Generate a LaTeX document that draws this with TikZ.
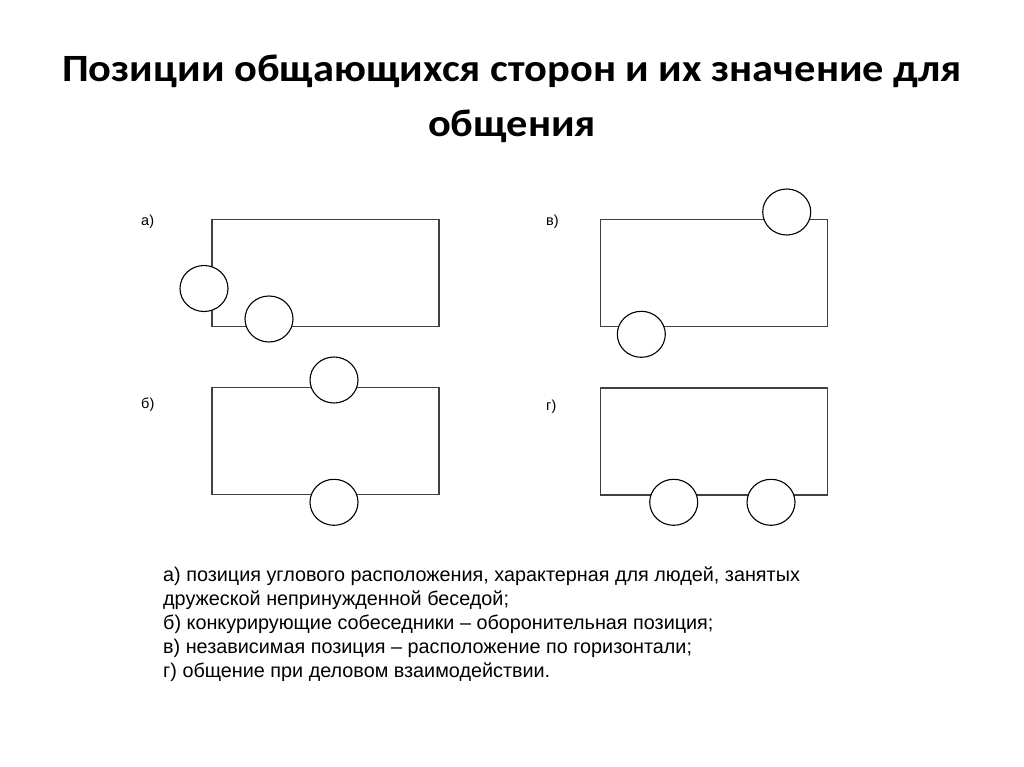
\documentclass[tikz,border=0pt]{standalone}
\usepackage{fontspec}
\setmainfont{Liberation Sans}
\newfontfamily\titlefont[FakeStretch=1.1]{Carlito}
\usetikzlibrary{shapes.geometric}
\tikzset{
  tablebox/.style={draw=black!75, line width=1.4pt, minimum width=227pt, minimum height=107pt, inner sep=0pt},
  person/.style={ellipse, draw=black, fill=white, line width=1.1pt, minimum width=48pt, minimum height=46pt, inner sep=0pt},
  tag/.style={font=\fontsize{14.5}{16}\selectfont, anchor=west, inner sep=0pt},
}
\begin{document}
\begin{tikzpicture}[x=1pt,y=-1pt]
\useasboundingbox (0,0) rectangle (1024,767);
\fill[white] (0,0) rectangle (1024,767);
\node[font=\titlefont\bfseries\fontsize{38.6}{55}\selectfont, align=center, inner sep=0pt] (title) at (512,99) {Позиции общающихся сторон и их значение для\\общения};
% a
\node[tag] (la) at (141,222) {а)};
\node[tablebox] (ta) at (325.5,272.8) {};
\node[person] (pa1) at (204,288.5) {};
\node[person] (pa2) at (269,319) {};
% v
\node[tag] (lv) at (546,222) {в)};
\node[tablebox] (tv) at (714.2,273.2) {};
\node[person] (pv1) at (786.7,212) {};
\node[person] (pv2) at (641.3,334.3) {};
% b
\node[tag] (lb) at (141,405) {б)};
\node[tablebox] (tb) at (325.5,441) {};
\node[person] (pb1) at (334,380) {};
\node[person] (pb2) at (334,502.3) {};
% g
\node[tag] (lg) at (546,406.5) {г)};
\node[tablebox] (tg) at (714.2,441.5) {};
\node[person] (pg1) at (673.7,502.3) {};
\node[person] (pg2) at (771,502.3) {};
% caption
\node[font=\fontsize{19.8}{24}\selectfont, align=left, anchor=north west, inner sep=0pt] (cap) at (163,567) {а) позиция углового расположения, характерная для людей, занятых\\
дружеской непринужденной беседой;\\
б) конкурирующие собеседники – оборонительная позиция;\\
в) независимая позиция – расположение по горизонтали;\\
г) общение при деловом взаимодействии.};
\end{tikzpicture}
\end{document}
